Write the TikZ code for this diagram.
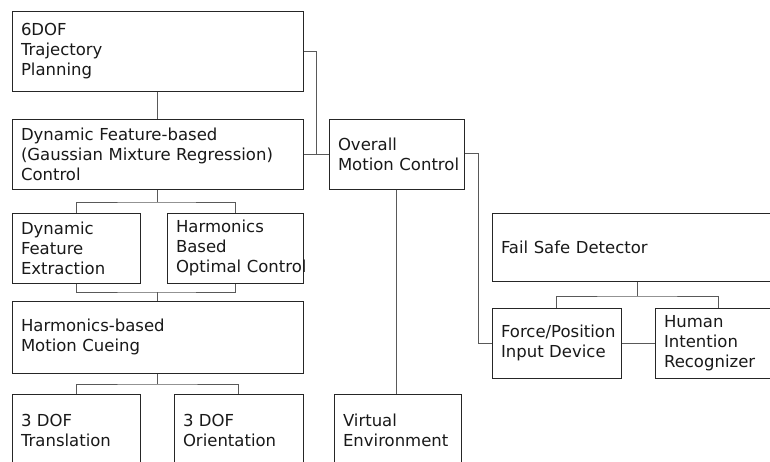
\documentclass[tikz,border=0pt]{standalone}
\usepackage{fontspec}
\setmainfont{DejaVu Sans}
\hyphenpenalty=10000
\begin{document}
\begin{tikzpicture}[x=1pt,y=-1pt,
  box/.style={draw=black!85, line width=1pt, align=left, inner xsep=9pt, inner ysep=0pt,
    font=\fontsize{16.5}{20}\selectfont, text=black!90, fill=white},
  conn/.style={draw=black!65, line width=1pt}]
\useasboundingbox (0,0) rectangle (770,461);
\clip (0,0) rectangle (770,461);
% left column
\node[box, minimum width=291pt, minimum height=80pt, text width=273pt] (A) at (157.5,51) {6DOF\\Trajectory\\Planning};
\node[box, minimum width=291pt, minimum height=70pt, text width=273pt] (B) at (157.5,154) {Dynamic Feature-based\\\mbox{(Gaussian Mixture Regression)}\\Control};
\node[box, minimum width=128pt, minimum height=70pt, text width=110pt] (C) at (76,248) {Dynamic\\Feature\\Extraction};
\node[box, minimum width=136pt, minimum height=70pt, text width=118pt] (D) at (235,248) {Harmonics\\Based\\\mbox{Optimal Control}};
\node[box, minimum width=291pt, minimum height=72pt, text width=273pt] (E) at (157.5,337) {Harmonics-based\\Motion Cueing};
\node[box, minimum width=128pt, minimum height=72pt, text width=110pt] (F) at (76,430) {3 DOF\\Translation};
\node[box, minimum width=129pt, minimum height=72pt, text width=111pt] (G) at (238.5,430) {3 DOF\\Orientation};
% middle column
\node[box, minimum width=135pt, minimum height=70pt, text width=117pt] (H) at (396.5,154) {Overall\\\mbox{Motion Control}};
\node[box, minimum width=127pt, minimum height=72pt, text width=109pt] (I) at (397.5,430) {Virtual\\Environment};
% right column
\node[box, minimum width=290pt, minimum height=68pt, text width=272pt] (J) at (637,247) {Fail Safe Detector};
\node[box, minimum width=129pt, minimum height=70pt, text width=111pt] (K) at (556.5,343) {\mbox{Force/Position}\\Input Device};
\node[box, minimum width=126pt, minimum height=70pt, text width=108pt] (L) at (718,343) {Human\\Intention\\Recognizer};
% connectors
\coordinate (j1) at (316,154);
\draw[conn] (A.south) -- (B.north);
\draw[conn] (A.east |- 0,51) -| (j1) -- (H.west);
\draw[conn] (B.east) -- (j1);
\coordinate (j2) at (478,153);
\draw[conn] (H.east |- j2) -- (j2) |- (K.west);
\draw[conn] (H.south) -- (H.south |- I.north);
\draw[conn] (J.south) -- (J.south |- 0,296) coordinate (j3);
\draw[conn] (K.north) |- (j3) -| (L.north);
\draw[conn] (K.east) -- (L.west);
\draw[conn] (B.south) -- (B.south |- 0,202) coordinate (j4);
\draw[conn] (C.north) |- (j4) -| (D.north);
\draw[conn] (C.south) |- (0,292 -| E.north) coordinate (j5) -| (D.south);
\draw[conn] (j5) -- (E.north);
\draw[conn] (E.south) -- (E.south |- 0,384) coordinate (j6);
\draw[conn] (F.north) |- (j6) -| (G.north);
\end{tikzpicture}
\end{document}
